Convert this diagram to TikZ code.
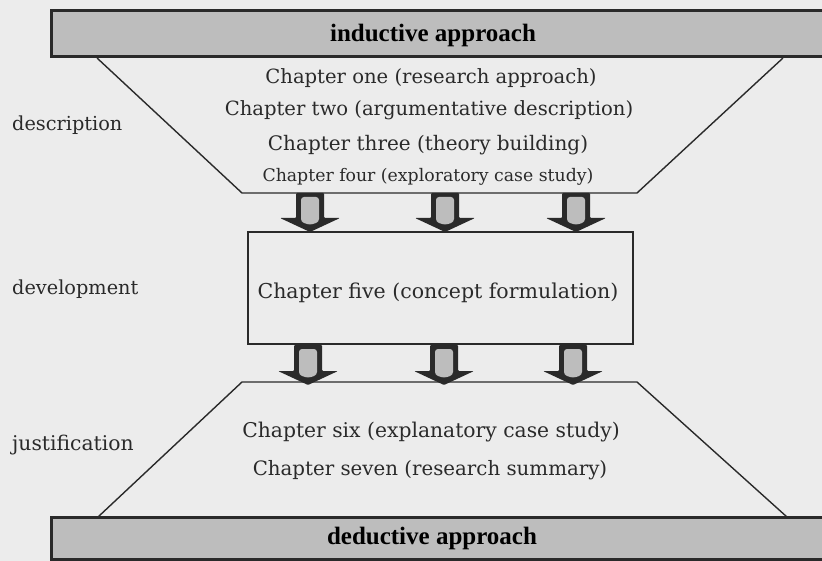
\documentclass[tikz,border=0pt]{standalone}
\usepackage{fontspec}
\setmainfont{DejaVu Serif}
\newfontfamily\titlefont{Liberation Serif}
\definecolor{paper}{HTML}{ECECEC}
\definecolor{band}{HTML}{BDBDBD}
\definecolor{ink}{HTML}{2A2A2A}
\begin{document}
\begin{tikzpicture}[x=1pt,y=-1pt,
  chap/.style={font=\fontsize{19.6}{22}\selectfont, text=ink, inner sep=0pt},
  lab/.style={font=\fontsize{19.3}{22}\selectfont, text=ink, inner sep=0pt, anchor=west},
  title/.style={font=\titlefont\bfseries\fontsize{25}{28}\selectfont, text=black, inner sep=0pt},
  bandbox/.style={draw=ink, line width=3pt, fill=band},
  thin/.style={draw=ink, line width=1.4pt},
]
\useasboundingbox (0,0) rectangle (822,561);
\fill[paper] (0,0) rectangle (822,561);

% top band
\draw[bandbox] (51,11) rectangle (826,57);
\node[title] (ind) at (433,35) {inductive approach};

% upper funnel
\coordinate (ul1) at (97,58);
\coordinate (ul2) at (242,193);
\coordinate (ur2) at (637,193);
\coordinate (ur1) at (783,58);
\draw[thin] (ul1) -- (ul2) -- (ur2) -- (ur1);

\node[chap] (c1) at (431,78) {Chapter one (research approach)};
\node[chap] (c2) at (429,110) {Chapter two (argumentative description)};
\node[chap, font=\fontsize{20}{22}\selectfont] (c3) at (428,145) {Chapter three (theory building)};
\node[chap, font=\fontsize{17.3}{20}\selectfont] (c4) at (428,177) {Chapter four (exploratory case study)};

% middle box
\node[thin, fill=paper, minimum width=385pt, minimum height=112pt, inner sep=0pt] (mid) at (440.5,288) {};
\node[chap, font=\fontsize{20.5}{22}\selectfont] (c5) at (438,293) {Chapter five (concept formulation)};

% lower funnel
\coordinate (ll1) at (242,382);
\coordinate (ll2) at (98,517);
\coordinate (lr1) at (637,382);
\coordinate (lr2) at (787,517);
\draw[thin] (ll2) -- (ll1) -- (lr1) -- (lr2);

\node[chap, font=\fontsize{20.3}{22}\selectfont] (c6) at (431,432) {Chapter six (explanatory case study)};
\node[chap, font=\fontsize{19.8}{22}\selectfont] (c7) at (430,470) {Chapter seven (research summary)};

% bottom band
\draw[bandbox] (51,517) rectangle (826,559);
\node[title] (ded) at (432,538) {deductive approach};

% side labels
\node[lab] (ld) at (12,125) {description};
\node[lab] (lv) at (12,289) {development};
\node[lab, font=\fontsize{20.3}{22}\selectfont] (lj) at (12,445) {justification};

% block arrows
\newcommand{\blockarrow}[3]{%
  \begin{scope}[shift={(#1,0)}]
  \fill[ink, line join=round, rounded corners=1pt]
    (-14,#2) -- (14,#2) -- (14,#3-14) -- (30,#3-14) -- (0,#3) -- (-30,#3-14) -- (-14,#3-14) -- cycle;
  \fill[band, rounded corners=3pt] (-9,#2+4) -- (9,#2+4) -- (9,#3-10) -- (0,#3-7) -- (-9,#3-10) -- cycle;
  \end{scope}}
\blockarrow{310}{193}{232}
\blockarrow{445}{193}{232}
\blockarrow{576}{193}{232}
\blockarrow{308}{345}{385}
\blockarrow{444}{345}{385}
\blockarrow{573}{345}{385}
\end{tikzpicture}
\end{document}
